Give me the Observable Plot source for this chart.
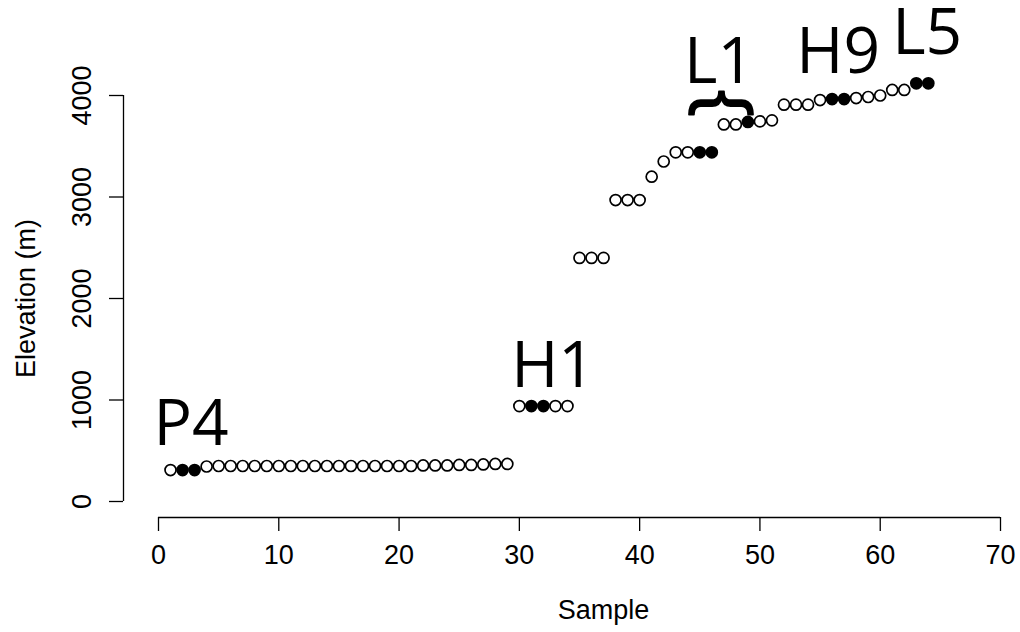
<!DOCTYPE html>
<html><head><meta charset="utf-8">
<script src="https://cdn.jsdelivr.net/npm/d3@7"></script>
<script src="https://cdn.jsdelivr.net/npm/@observablehq/plot@0.6"></script>
<style>html,body{margin:0;padding:0;background:#fff;}</style>
</head><body><div id="chart"></div>
<script>
// Elevation (m) for samples 1..64
const elevation = [
  310, 310, 310, 345, 350, 350, 350, 350, 350, 350,
  350, 350, 350, 350, 350, 350, 350, 350, 350, 350,
  350, 355, 355, 355, 360, 360, 365, 370, 370, 940,
  940, 940, 940, 940, 2400, 2400, 2400, 2970, 2970, 2970,
  3200, 3350, 3440, 3440, 3440, 3440, 3715, 3715, 3740, 3745,
  3755, 3910, 3910, 3910, 3955, 3965, 3965, 3975, 3985, 4000,
  4055, 4055, 4120, 4120
];
const filledSamples = [2, 3, 31, 32, 45, 46, 49, 56, 57, 63, 64];
const xTicks = [0, 10, 20, 30, 40, 50, 60, 70];
const yTicks = [0, 1000, 2000, 3000, 4000];
const siteLabels = ["P4", "H1", "L1", "H9", "L5"];
const siteLabelX = [2.7, 32.8, 46.6, 56.5, 63.9];
const siteLabelY = [552, 1133, 4128, 4217, 4410];
const braceText = ["{"];
const braceX = [47.1];
const braceY = [3925];

const points = elevation.map((e, i) => ({sample: i + 1, elevation: e, filled: filledSamples.includes(i + 1)}));
const labelsData = siteLabels.map((t, i) => ({t, x: siteLabelX[i], y: siteLabelY[i]}));
const braceData = braceText.map((t, i) => ({t, x: braceX[i], y: braceY[i]}));

const axisFont = "'Liberation Sans', Arial, Helvetica, sans-serif";
const bigFont = "'Open Sans', 'Noto Sans', sans-serif";
const chart = Plot.plot({
  width: 1020,
  height: 632,
  marginLeft: 123,
  marginBottom: 115,
  marginTop: 0,
  marginRight: 0,
  style: {fontFamily: axisFont, background: "white", color: "black"},
  x: {domain: [0, 70], range: [158, 1000]},
  y: {domain: [0, 4000], range: [501, 95]},
  marks: [
    Plot.axisX({ticks: xTicks, tickSize: 14, tickFormat: () => "", label: null, strokeWidth: 1.3}),
    Plot.axisY({ticks: yTicks, tickSize: 14, tickFormat: () => "", label: null, strokeWidth: 1.3}),
    Plot.ruleY([0], {x1: 0, x2: 70, dy: 16, stroke: "black", strokeWidth: 1.3}),
    Plot.ruleX([0], {y1: 0, y2: 4000, dx: -35, stroke: "black", strokeWidth: 1.3}),
    Plot.text(xTicks, {x: d => d, frameAnchor: "bottom", dy: 38, text: d => String(d), fontSize: 27, textAnchor: "middle", lineAnchor: "middle", fill: "black"}),
    Plot.text(yTicks, {y: d => d, frameAnchor: "left", dx: -41, rotate: -90, text: d => String(d), fontSize: 27, textAnchor: "middle", lineAnchor: "middle", fill: "black"}),
    Plot.text(["Sample"], {x: 37, frameAnchor: "bottom", dy: 93, text: d => d, fontSize: 27, textAnchor: "middle", lineAnchor: "middle", fill: "black"}),
    Plot.text(["Elevation (m)"], {y: 2000, frameAnchor: "left", dx: -97, rotate: -90, text: d => d, fontSize: 27, textAnchor: "middle", lineAnchor: "middle", fill: "black"}),
    Plot.dot(points.filter(d => !d.filled), {x: "sample", y: "elevation", r: 5.5, stroke: "black", strokeWidth: 1.7, fill: "white"}),
    Plot.dot(points.filter(d => d.filled), {x: "sample", y: "elevation", r: 5.5, stroke: "black", strokeWidth: 1.7, fill: "black"}),
    Plot.text(labelsData, {x: "x", y: "y", text: "t", fontSize: 64, fontFamily: bigFont, textAnchor: "middle", lineAnchor: "bottom", fill: "black"}),
    Plot.text(braceData, {x: "x", y: "y", text: "t", fontSize: 74, fontFamily: bigFont, rotate: 90, textAnchor: "middle", lineAnchor: "middle", fill: "black", stroke: "black", strokeWidth: 1.8})
  ]
});
document.getElementById("chart").appendChild(chart);
</script>
</body></html>
